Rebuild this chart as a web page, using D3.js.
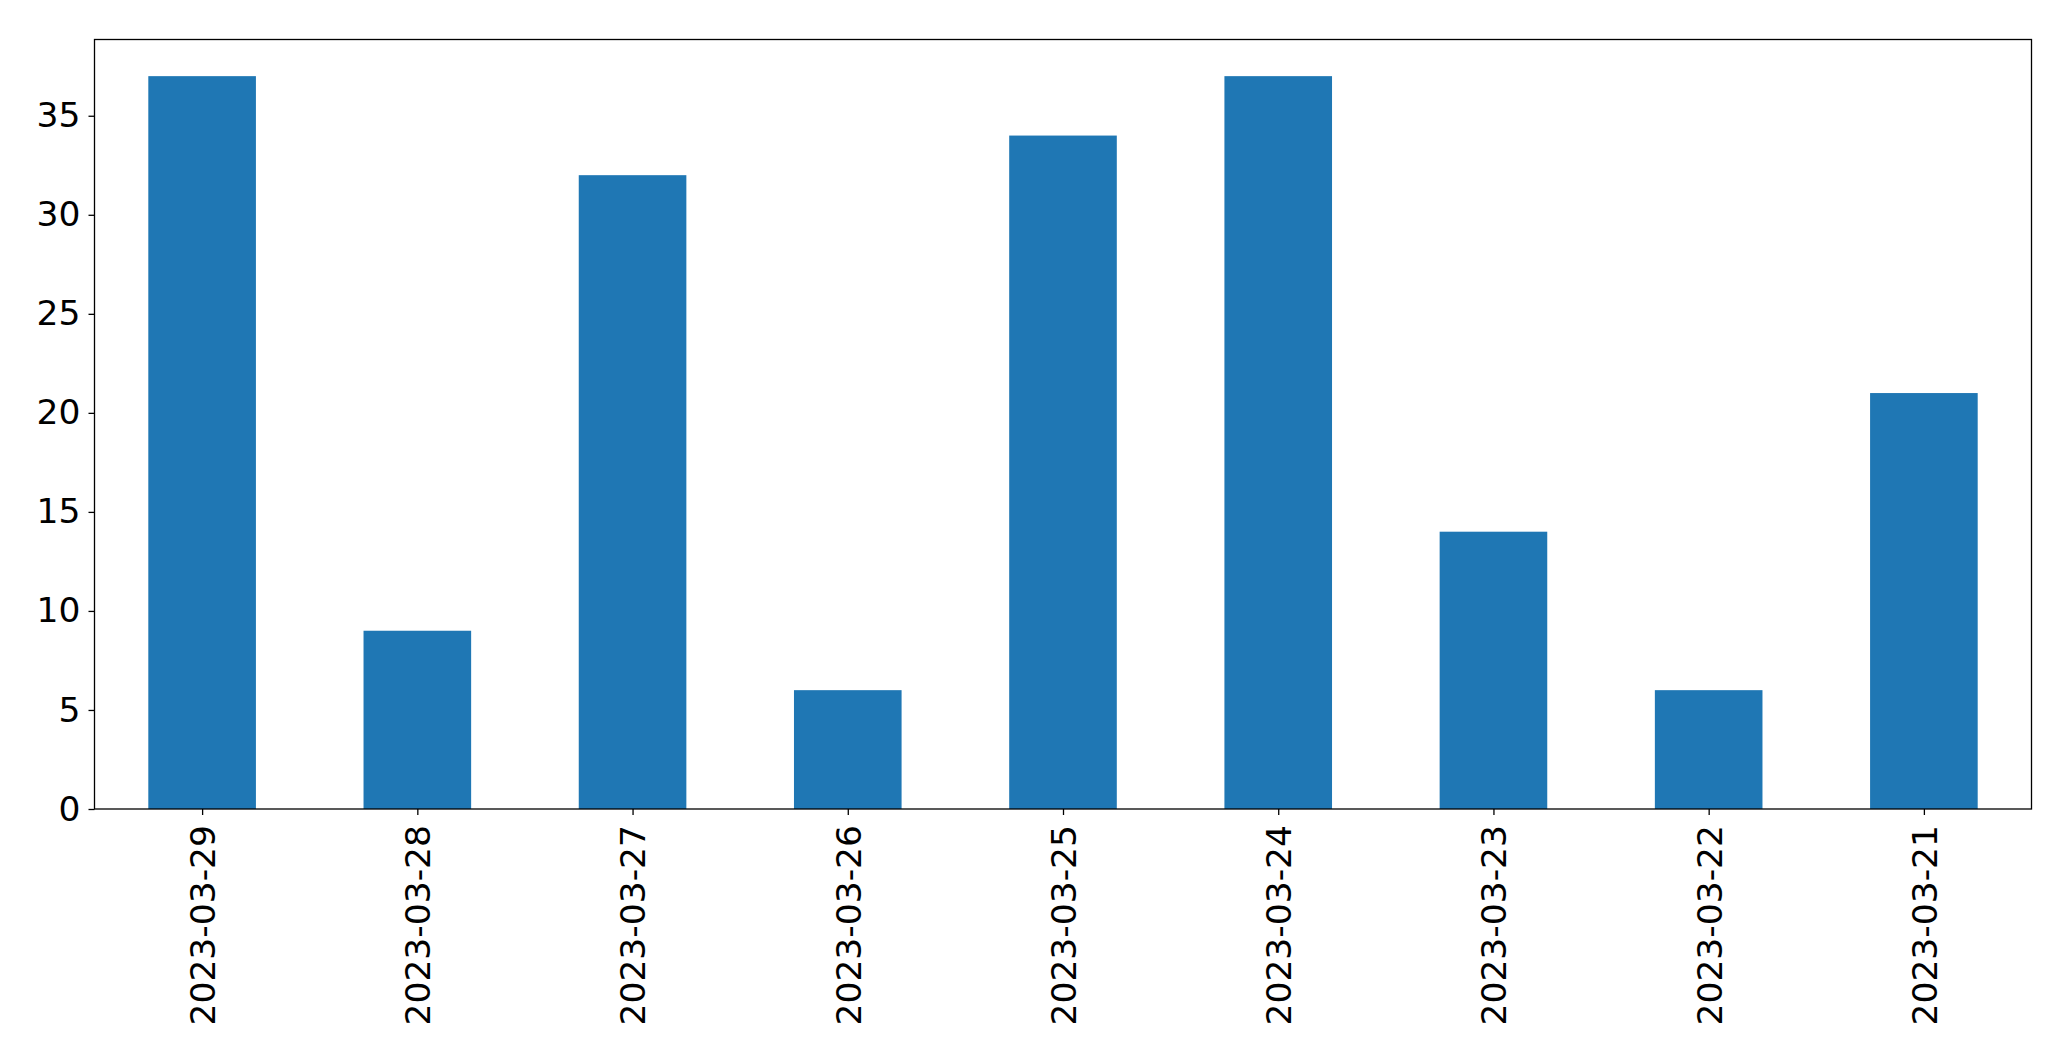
<!DOCTYPE html>
<html><head><meta charset="utf-8">
<script src="https://cdn.jsdelivr.net/npm/d3@7"></script>
<style>body{margin:0;background:#fff}svg{display:block}</style>
</head><body>
<script>
const categories = ["2023-03-29","2023-03-28","2023-03-27","2023-03-26","2023-03-25","2023-03-24","2023-03-23","2023-03-22","2023-03-21"];
const values = [37, 9, 32, 6, 34, 37, 14, 6, 21];
const yTicks = [0, 5, 10, 15, 20, 25, 30, 35];

const W = 2071, H = 1061;
const m = {left: 94.5, right: 2031.5, top: 39.5, bottom: 809};
const fontSize = 34.5;
const font = "'DejaVu Sans', sans-serif";

const svg = d3.select("body").append("svg").attr("width", W).attr("height", H);

const x = d3.scaleLinear().domain([-0.5, categories.length - 0.5]).range([m.left, m.right]);
const y = d3.scaleLinear().domain([0, d3.max(values) * 1.05]).range([m.bottom, m.top]);
const bw = 0.5;

svg.append("g").selectAll("rect").data(values).join("rect")
  .attr("x", (d, i) => x(i - bw / 2))
  .attr("width", (d, i) => x(i + bw / 2) - x(i - bw / 2))
  .attr("y", d => y(d))
  .attr("height", d => y(0) - y(d))
  .attr("fill", "#1f77b4");

// y axis
const yAxis = d3.axisLeft(y).tickValues(yTicks).tickSize(6).tickPadding(8).tickFormat(d3.format("d"));
const gy = svg.append("g").attr("transform", `translate(${m.left},0)`).call(yAxis);
gy.select(".domain").remove();
gy.selectAll("line").attr("stroke", "#000").attr("stroke-width", 1.3);
gy.selectAll("text").attr("font-family", font).attr("font-size", fontSize).attr("fill", "#000");

// x axis
const xAxis = d3.axisBottom(x).tickValues(d3.range(categories.length)).tickFormat(i => categories[i]).tickSize(6).tickPadding(10);
const gx = svg.append("g").attr("transform", `translate(0,${m.bottom})`).call(xAxis);
gx.select(".domain").remove();
gx.selectAll("line").attr("stroke", "#000").attr("stroke-width", 1.3);
gx.selectAll("text")
  .attr("font-family", font).attr("font-size", fontSize).attr("fill", "#000")
  .attr("text-anchor", "end")
  .attr("transform", "rotate(-90)")
  .attr("x", -16).attr("y", 0).attr("dy", "0.36em");

// frame
svg.append("rect")
  .attr("x", m.left).attr("y", m.top)
  .attr("width", m.right - m.left).attr("height", m.bottom - m.top)
  .attr("fill", "none").attr("stroke", "#000").attr("stroke-width", 1.3);
</script>
</body></html>
